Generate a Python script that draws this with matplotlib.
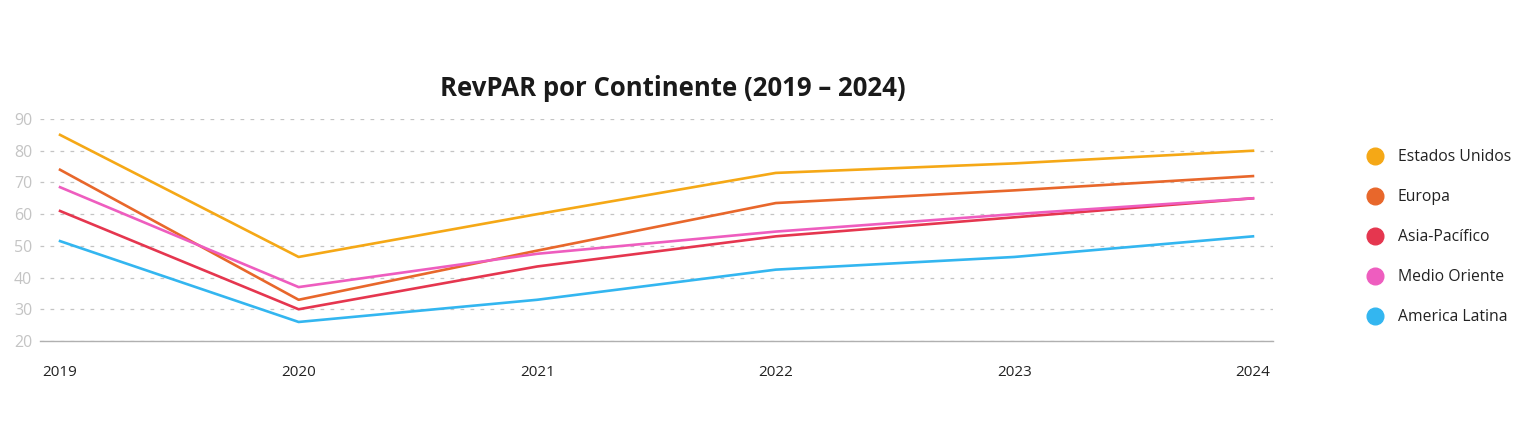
import numpy as np
import matplotlib.pyplot as plt
from matplotlib.lines import Line2D

# Data
years = ['2019', '2020', '2021', '2022', '2023', '2024']
series_names = ['Estados Unidos', 'Europa', 'Asia-Pacífico', 'Medio Oriente', 'America Latina']
estados_unidos = [85, 46.5, 60, 73, 76, 80]
europa = [74, 33, 48.5, 63.5, 67.5, 72]
asia_pacifico = [61, 30, 43.5, 53, 59, 65]
medio_oriente = [68.5, 37, 47.5, 54.5, 60, 65]
america_latina = [51.5, 26, 33, 42.5, 46.5, 53]
colors = ['#F5A816', '#E8672B', '#E5364F', '#EE5DBF', '#33B6F0']

plt.rcParams['font.family'] = ['Open Sans', 'DejaVu Sans']

fig = plt.figure(figsize=(15.29, 4.21), dpi=100)
ax = fig.add_axes([40/1529, (421-341)/421, (1273-40)/1529, (341-119)/421])

x = np.arange(len(years))
all_series = [estados_unidos, europa, asia_pacifico, medio_oriente, america_latina]
for vals, c in zip(all_series, colors):
    ax.plot(x, vals, color=c, linewidth=1.9, zorder=3)

# axes styling
ax.set_xlim(-0.084, 5.084)
ax.set_ylim(20, 90)
ax.set_yticks(np.arange(20, 91, 10))
ax.set_xticks(x)
ax.set_xticklabels(years)
ax.grid(axis='y', color='#c4c4c4', linestyle=(0, (3, 5)), linewidth=0.9)
ax.set_axisbelow(True)
for s in ['top', 'right', 'left']:
    ax.spines[s].set_visible(False)
ax.spines['bottom'].set_color('#b0b0b0')
ax.spines['bottom'].set_linewidth(1.0)
ax.tick_params(axis='both', length=0)
ax.tick_params(axis='y', labelcolor='#c4c4c4', labelsize=11.5, pad=5)
ax.tick_params(axis='x', labelcolor='#222222', labelsize=11, pad=17)
for lbl in ax.get_yticklabels():
    lbl.set_horizontalalignment('left')
    lbl.set_x(-19/1233)

fig.text(673/1529, 1 - 88/421, 'RevPAR por Continente (2019 – 2024)',
         ha='center', va='center', fontsize=18.5, fontweight='bold', color='#1a1a1a')

handles = [Line2D([], [], marker='o', linestyle='none', markersize=12,
                  markerfacecolor=c, markeredgecolor=c) for c in colors]
fig.legend(handles, series_names, loc='upper left',
           bbox_to_anchor=(1345/1529, 1 - 135/421), frameon=False,
           fontsize=11.3, labelspacing=1.53, handletextpad=0.45,
           labelcolor='#222222')

plt.savefig('out.png', dpi=100)
